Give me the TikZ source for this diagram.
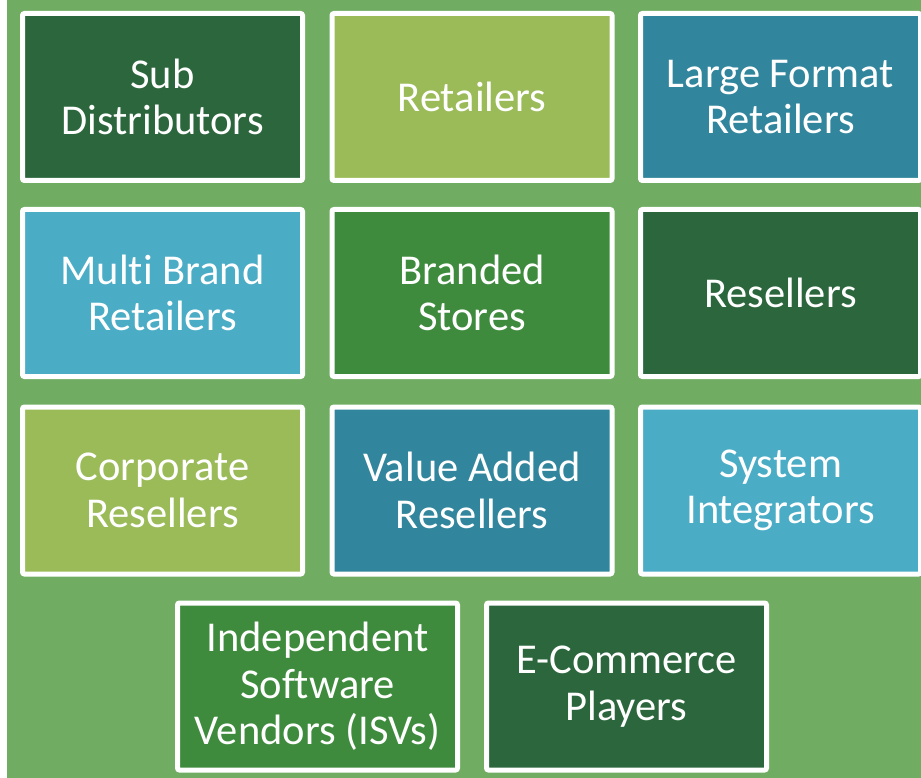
\documentclass[tikz,border=0pt]{standalone}
\usepackage{fontspec}
\setmainfont[Ligatures=CommonOff]{Carlito}
\definecolor{bgg}{HTML}{70AD62}
\definecolor{dkg}{HTML}{2C663D}
\definecolor{olv}{HTML}{9BBB59}
\definecolor{tel}{HTML}{31859C}
\definecolor{lbl}{HTML}{4BACC6}
\definecolor{mdg}{HTML}{3E8B3D}
\tikzset{
  tile/.style={draw=white, line width=5pt, rounded corners=2pt, minimum width=280pt, minimum height=167pt,
    text=white, align=center, font=\fontsize{42.5}{46.5}\selectfont, inner sep=0pt}
}
\begin{document}
\begin{tikzpicture}[x=1pt,y=-1pt]
\useasboundingbox (0,0) rectangle (921,778);
\clip (0,0) rectangle (921,778);
\fill[white] (0,0) rectangle (7,778);
\fill[bgg] (7,0) rectangle (921,778);
\node[tile, fill=dkg] (a1) at (162.5,97) {Sub\\Distributors};
\node[tile, fill=olv] (a2) at (472,97) {Retailers};
\node[tile, fill=tel] (a3) at (780.5,97) {Large Format\\Retailers};
\node[tile, fill=lbl] (b1) at (162.5,293) {Multi Brand\\Retailers};
\node[tile, fill=mdg] (b2) at (472,293) {Branded\\Stores};
\node[tile, fill=dkg] (b3) at (780.5,293) {Resellers};
\node[tile, fill=olv] (c1) at (162.5,490.5) {Corporate\\Resellers};
\node[tile, fill=tel] (c2) at (472,490.5) {Value Added\\Resellers};
\node[tile, fill=lbl] (c3) at (780.5,490.5) {System\\Integrators};
\node[tile, fill=mdg] (d1) at (317.5,686.5) {Independent\\Software\\Vendors (ISVs)};
\node[tile, fill=dkg] (d2) at (626.5,686.5) {E-Commerce\\Players};
\end{tikzpicture}
\end{document}
